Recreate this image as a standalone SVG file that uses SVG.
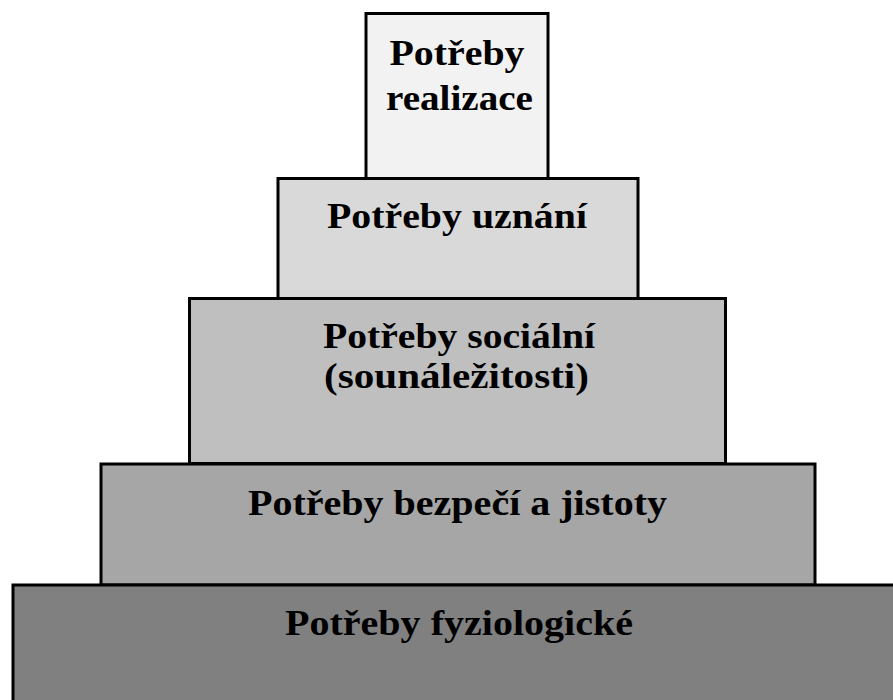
<svg xmlns="http://www.w3.org/2000/svg" width="893" height="700" viewBox="0 0 893 700">
<style>
.box{stroke:#000;stroke-width:3}
.t{font-family:"Liberation Serif","Times New Roman",serif;font-weight:bold;font-size:35px;fill:#000;text-anchor:middle}
</style>
<rect width="893" height="700" fill="#fff"/>
<g id="realizace">
<rect class="box" x="366" y="13.5" width="182" height="165" fill="#f2f2f2"/>
<text class="t" x="457" y="65" textLength="135" lengthAdjust="spacingAndGlyphs">Potřeby</text>
<text class="t" x="459.5" y="110" textLength="147" lengthAdjust="spacingAndGlyphs">realizace</text>
</g>
<g id="uznani">
<rect class="box" x="278" y="178.5" width="360" height="120" fill="#d9d9d9"/>
<text class="t" x="457" y="228" textLength="260" lengthAdjust="spacingAndGlyphs">Potřeby uznání</text>
</g>
<g id="socialni">
<rect class="box" x="189.5" y="298.5" width="536" height="165" fill="#bfbfbf"/>
<text class="t" x="459" y="348" textLength="272" lengthAdjust="spacingAndGlyphs">Potřeby sociální</text>
<text class="t" x="456.5" y="388" textLength="265" lengthAdjust="spacingAndGlyphs">(sounáležitosti)</text>
</g>
<g id="bezpeci">
<rect class="box" x="101" y="464" width="714" height="121" fill="#a6a6a6"/>
<text class="t" x="457.5" y="515" textLength="419" lengthAdjust="spacingAndGlyphs">Potřeby bezpečí a jistoty</text>
</g>
<g id="fyziologicke">
<rect class="box" x="13" y="585" width="900" height="130" fill="#808080"/>
<text class="t" x="459" y="635" textLength="348" lengthAdjust="spacingAndGlyphs">Potřeby fyziologické</text>
</g>
<g id="connectors"/>
</svg>
